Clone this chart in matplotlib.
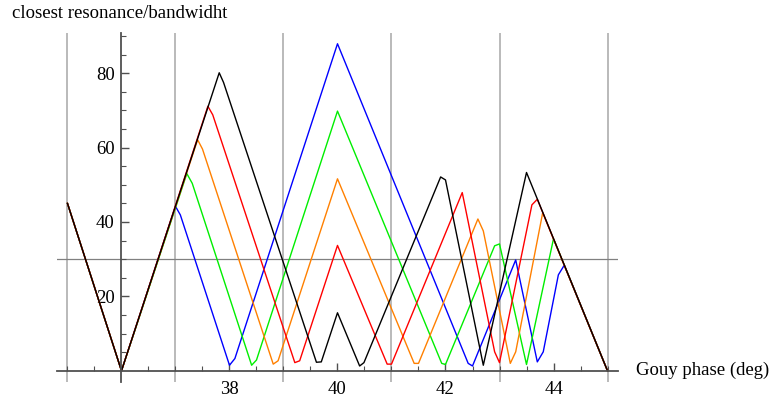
import matplotlib
matplotlib.use('Agg')
import matplotlib.pyplot as plt
import numpy as np

plt.rcParams['font.family'] = 'Liberation Serif'
fontsize = 13.5

# vertices: gouy phase (deg) vs closest resonance/bandwidth
black_x = [35, 36, 37.81, 37.89, 39.61, 39.70, 40.0, 40.41, 40.49, 41.91, 42.0, 42.70, 43.5, 45]
black_y = [45, 0, 80.1, 77.5, 2.3, 2.4, 15.6, 1.3, 2.2, 52.1, 51.3, 1.5, 53.3, 0]

red_x = [35, 36, 37.60, 37.69, 39.21, 39.30, 40.0, 40.92, 41.0, 42.31, 42.91, 43.0, 43.6, 43.7, 45]
red_y = [45, 0, 71.1, 68.8, 2.2, 2.7, 33.7, 1.8, 1.8, 47.9, 5.1, 2.2, 44.6, 46.1, 0]

orange_x = [35, 36, 37.41, 37.50, 38.81, 38.90, 40.0, 41.42, 41.5, 42.6, 42.7, 43.2, 43.3, 43.8, 45]
orange_y = [45, 0, 62.1, 59.6, 1.8, 2.7, 51.6, 2.0, 2.0, 40.8, 37.6, 2.0, 5.1, 42.5, 0]

green_x = [35, 36, 37.21, 37.31, 38.41, 38.5, 40.0, 41.93, 42.0, 42.91, 43.0, 43.5, 44.0, 45]
green_y = [45, 0, 53.0, 50.4, 1.5, 2.9, 69.8, 2.0, 1.7, 33.6, 34.1, 1.7, 35.5, 0]

blue_x = [35, 36, 37.0, 37.09, 38.0, 38.1, 40.0, 42.42, 42.5, 43.3, 43.7, 43.81, 44.09, 44.2, 45]
blue_y = [45, 0, 44.2, 41.9, 1.5, 3.3, 87.9, 2.0, 1.3, 29.8, 2.4, 5.1, 25.8, 28.4, 0]

grid_x = [35, 37, 39, 41, 43, 45]
threshold = 30

fig = plt.figure(figsize=(7.7, 4.04), dpi=100)
ax = fig.add_axes([0.0736, 0.0545, 0.7294, 0.863])
ax.set_xlim(34.8, 45.2)
ax.set_ylim(-3.0, 90.7)

# grid
for g in grid_x:
    ax.axvline(g, color='#b4b4b4', lw=1.3, zorder=0)
ax.axhline(threshold, color='#808080', lw=0.9, zorder=0.5)

# curves, black last so it sits on top
for x, y, c in [(blue_x, blue_y, '#0000ff'), (green_x, green_y, '#00ee00'),
                (orange_x, orange_y, '#ff8000'), (red_x, red_y, '#ff0000'),
                (black_x, black_y, 'black')]:
    ax.plot(x, y, color=c, lw=1.0)

# axes through (36, 0)
for s in ['top', 'right']:
    ax.spines[s].set_visible(False)
ax.spines['left'].set_position(('data', 36))
ax.spines['bottom'].set_position(('data', 0))
for s in ['left', 'bottom']:
    ax.spines[s].set_color('#505050')
    ax.spines[s].set_linewidth(1.3)

ax.set_xticks([38, 40, 42, 44])
ax.set_xticks(np.arange(35, 45.01, 0.5), minor=True)
ax.set_yticks([20, 40, 60, 80])
ax.set_yticks(np.arange(5, 90.1, 5), minor=True)
ax.tick_params(which='both', direction='in', color='#505050', labelsize=fontsize)
ax.tick_params(which='major', length=6, width=1.0)
ax.tick_params(which='minor', length=3.5, width=0.8)
ax.tick_params(axis='x', pad=7)
ax.tick_params(axis='y', pad=5)

fig.text(12 / 770, 1 - 14 / 404, 'closest resonance/bandwidht', fontsize=fontsize,
         ha='left', va='center')
fig.text(636 / 770, 1 - 370 / 404, 'Gouy phase (deg)', fontsize=fontsize,
         ha='left', va='center')

fig.savefig('out.png', dpi=100)
